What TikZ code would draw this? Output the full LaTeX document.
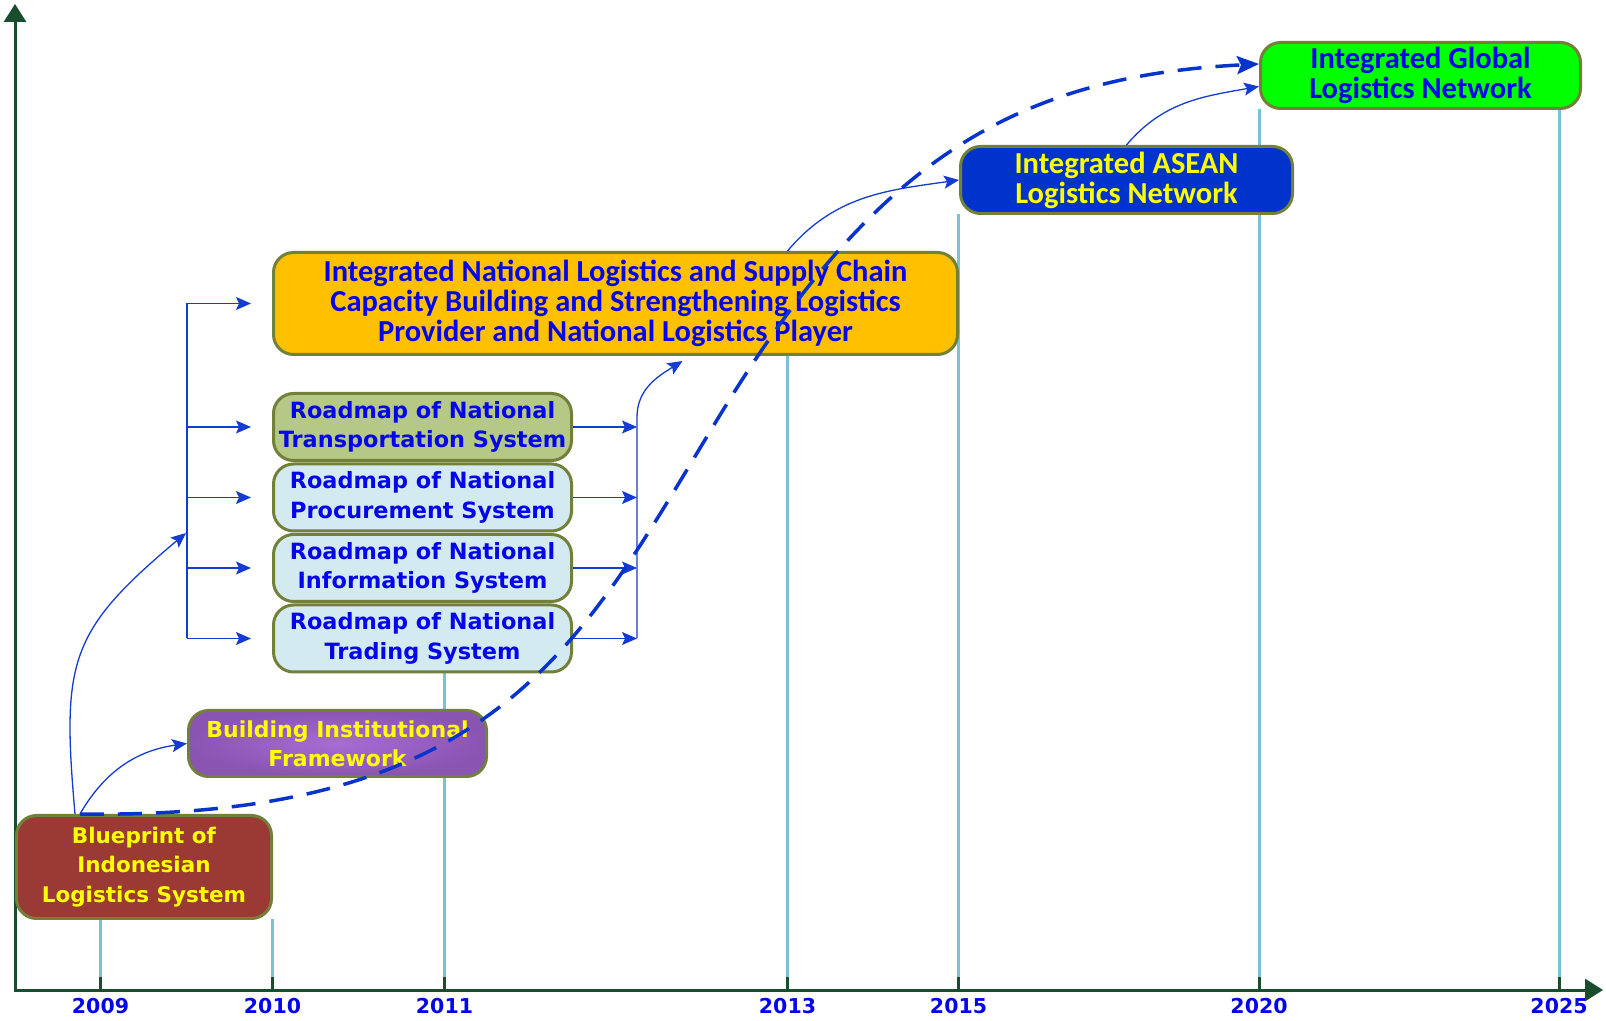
\documentclass[tikz,border=0pt]{standalone}
\usepackage{fontspec}
\setmainfont{DejaVu Sans}
\newfontfamily\calibri{Carlito}
\usetikzlibrary{arrows.meta}

\definecolor{axisgreen}{RGB}{26,76,46}
\definecolor{yearline}{RGB}{120,195,212}
\definecolor{boxedge}{RGB}{114,128,58}
\definecolor{txtblue}{RGB}{5,5,235}
\definecolor{txtyellow}{RGB}{255,255,0}
\definecolor{linkblue}{RGB}{20,60,210}
\definecolor{dashblue}{RGB}{8,52,205}
\definecolor{brick}{RGB}{155,58,53}
\definecolor{violetin}{RGB}{168,108,212}
\definecolor{violetout}{RGB}{138,84,178}
\definecolor{olivefill}{RGB}{181,200,134}
\definecolor{palefill}{RGB}{210,234,240}
\definecolor{amberfill}{RGB}{255,192,0}
\definecolor{royalfill}{RGB}{0,50,204}
\definecolor{limefill}{RGB}{0,255,0}

\tikzset{
    box/.style={draw=boxedge, line width=3pt, rounded corners=20pt, align=center, inner sep=0pt,
        font=\bfseries\fontsize{22.4}{29.5}\selectfont},
    bigbox/.style={box, font=\calibri\bfseries\fontsize{30.5}{30}\selectfont},
    link/.style={linkblue, line width=1.3pt},
    linkarrow/.style={link, -{Stealth[length=15pt,width=13pt,inset=3pt]}},
    year/.style={anchor=base, text=txtblue, font=\bfseries\fontsize{20.5}{24}\selectfont}
}

\begin{document}
\begin{tikzpicture}[x=1pt,y=1pt]
    \useasboundingbox (0,0) rectangle (1606,1020);

    \foreach \yr/\xx/\top in {2009/100.5/101, 2010/272.5/101, 2011/444.5/348, 2013/787.5/665,
                               2015/958.5/806, 2020/1259/911, 2025/1559/911} {
        \draw[yearline, line width=3pt] (\xx,43) -- (\xx,\top);
        \draw[axisgreen, line width=3pt] (\xx,30) -- (\xx,43);
        \node[year] (y\yr) at (\xx,7) {\yr};
    }
    \draw[axisgreen, line width=3pt, {Triangle[length=18pt,width=22pt]}-{Triangle[length=18pt,width=22pt]}]
        (15,1016) -- (15,30) -- (1603,30);

    \node[box, fill=brick, text=txtyellow, minimum width=255pt, minimum height=103pt,
        font=\bfseries\fontsize{21.5}{29.5}\selectfont] (blueprint) at (144,153)
        {Blueprint of\\Indonesian\\Logistics System};
    \node[box, shading=radial, inner color=violetin, outer color=violetout, text=txtyellow,
        minimum width=298pt, minimum height=66pt, font=\bfseries\fontsize{22}{29}\selectfont] (building) at (337.5,276.5)
        {Building Institutional\\Framework};
    \node[box, fill=olivefill, text=txtblue, minimum width=298pt, minimum height=67pt] (transport) at (422.5,593)
        {Roadmap of National\\Transportation System};
    \node[box, fill=palefill, text=txtblue, minimum width=298pt, minimum height=67pt] (procure) at (422.5,522.5)
        {Roadmap of National\\Procurement System};
    \node[box, fill=palefill, text=txtblue, minimum width=298pt, minimum height=67pt] (inform) at (422.5,452)
        {Roadmap of National\\Information System};
    \node[box, fill=palefill, text=txtblue, minimum width=298pt, minimum height=67pt] (trading) at (422.5,381.5)
        {Roadmap of National\\Trading System};
    \node[bigbox, fill=amberfill, text=txtblue, minimum width=684pt, minimum height=102pt] (national) at (615.5,716.5)
        {Integrated National Logistics and Supply Chain\\Capacity Building and Strengthening Logistics\\Provider and National Logistics Player};
    \node[bigbox, fill=royalfill, text=txtyellow, minimum width=332pt, minimum height=67pt] (asean) at (1126.5,840)
        {Integrated ASEAN\\Logistics Network};
    \node[bigbox, fill=limefill, text=txtblue, minimum width=320pt, minimum height=66pt] (global) at (1420.5,944.5)
        {Integrated Global\\Logistics Network};

    \coordinate (hub) at (186,487);
    \draw[link] ([xshift=-85pt]national.west) -- ([xshift=-85pt]trading.west);
    \foreach \n in {national,transport,procure,inform,trading}
        \draw[linkarrow] ([xshift=-85pt]\n.west) -- ([xshift=-21pt]\n.west);
    \foreach \n in {transport,procure,inform,trading}
        \draw[linkarrow] (\n.east) -- ([xshift=64pt]\n.east);
    \draw[linkarrow] ([xshift=64pt]trading.east) -- ([xshift=64pt,yshift=10pt]transport.east)
        to[out=90,in=212] ([xshift=67pt,yshift=-5pt]national.south);

    \draw[linkarrow] ([xshift=60pt]blueprint.north west) to[out=95,in=220,looseness=1.3] (hub);
    \draw[linkarrow] ([xshift=65pt]blueprint.north west) to[out=60,in=188] (building.west);
    \draw[linkarrow] ([xshift=172pt]national.north) to[out=50,in=188] (asean.west);
    \draw[linkarrow] (asean.north) to[out=50,in=190] ([yshift=-11pt]global.west);

    \draw[dashblue, line width=3.5pt, dash pattern=on 24pt off 14pt, -{Stealth[length=22pt,width=18pt,inset=4pt]}]
        ([xshift=65pt]blueprint.north west) .. controls (500,200) and (582,378) .. (717,600)
        .. controls (872,856.5) and (1012,943.5) .. ([yshift=11.5pt]global.west);
\end{tikzpicture}
\end{document}
